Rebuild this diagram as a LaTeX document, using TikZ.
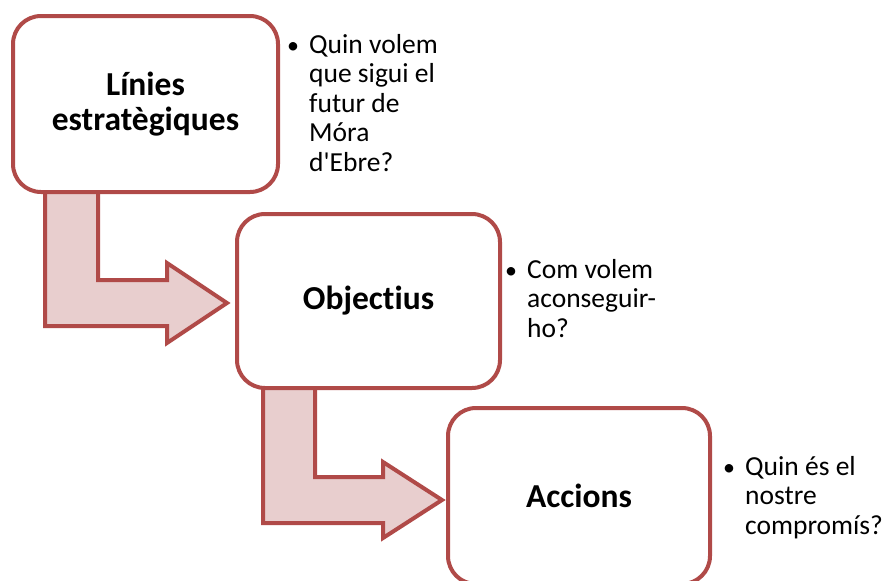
\documentclass[tikz,border=0pt]{standalone}
\usepackage{fontspec}
\setmainfont{Carlito}[Ligatures={NoCommon,NoRare,NoDiscretionary,NoContextual}]
\definecolor{bord}{HTML}{B04A48}
\definecolor{afill}{HTML}{E8CECE}
\newcommand{\bulcell}{\makebox[24pt][l]{\makebox[16pt][c]{\fontsize{24}{24}\selectfont\textbullet}}}
\begin{document}
\begin{tikzpicture}[x=1pt,y=-1pt,
  box/.style={draw=bord, line width=4pt, fill=white, rounded corners=28pt, inner sep=0pt, align=center, font=\fontsize{33.5}{35}\selectfont\bfseries},
  bent/.style={draw=bord, line width=4pt, fill=afill, line join=miter},
  bul/.style={anchor=base west, inner sep=0pt, font=\fontsize{27.5}{29.5}\selectfont}]
\useasboundingbox (0,0) rectangle (892,581);
% bent arrows
\draw[bent] (45,190) -- (98,190) -- (98,280) -- (167,280) -- (167,263) -- (227,303) -- (167,343) -- (167,326) -- (45,326) -- cycle;
\draw[bent] (263,386) -- (315,386) -- (315,477) -- (383,477) -- (383,462) -- (442,500) -- (383,538) -- (383,523) -- (263,523) -- cycle;
% boxes
\node[box, minimum width=265pt, minimum height=176pt] (lin) at (145.5,104) {Línies\\estratègiques};
\node[box, minimum width=263pt, minimum height=174pt] (obj) at (368.5,301) {Objectius};
\node[box, minimum width=262pt, minimum height=176pt] (acc) at (579,496) {Accions};
% bullet texts
\node[bul] (q1) at (285,53) {\begin{tabular}[t]{@{}l@{}l@{}}\bulcell & Quin volem\\ & que sigui el\\ & futur de\\ & Móra\\ & d\textquotesingle Ebre?\end{tabular}};
\node[bul] (q2) at (503,278) {\begin{tabular}[t]{@{}l@{}l@{}}\bulcell & Com volem\\ & aconseguir-\\ & ho?\end{tabular}};
\node[bul] (q3) at (721,475) {\begin{tabular}[t]{@{}l@{}l@{}}\bulcell & Quin és el\\ & nostre\\ & compromís?\end{tabular}};
\end{tikzpicture}
\end{document}
